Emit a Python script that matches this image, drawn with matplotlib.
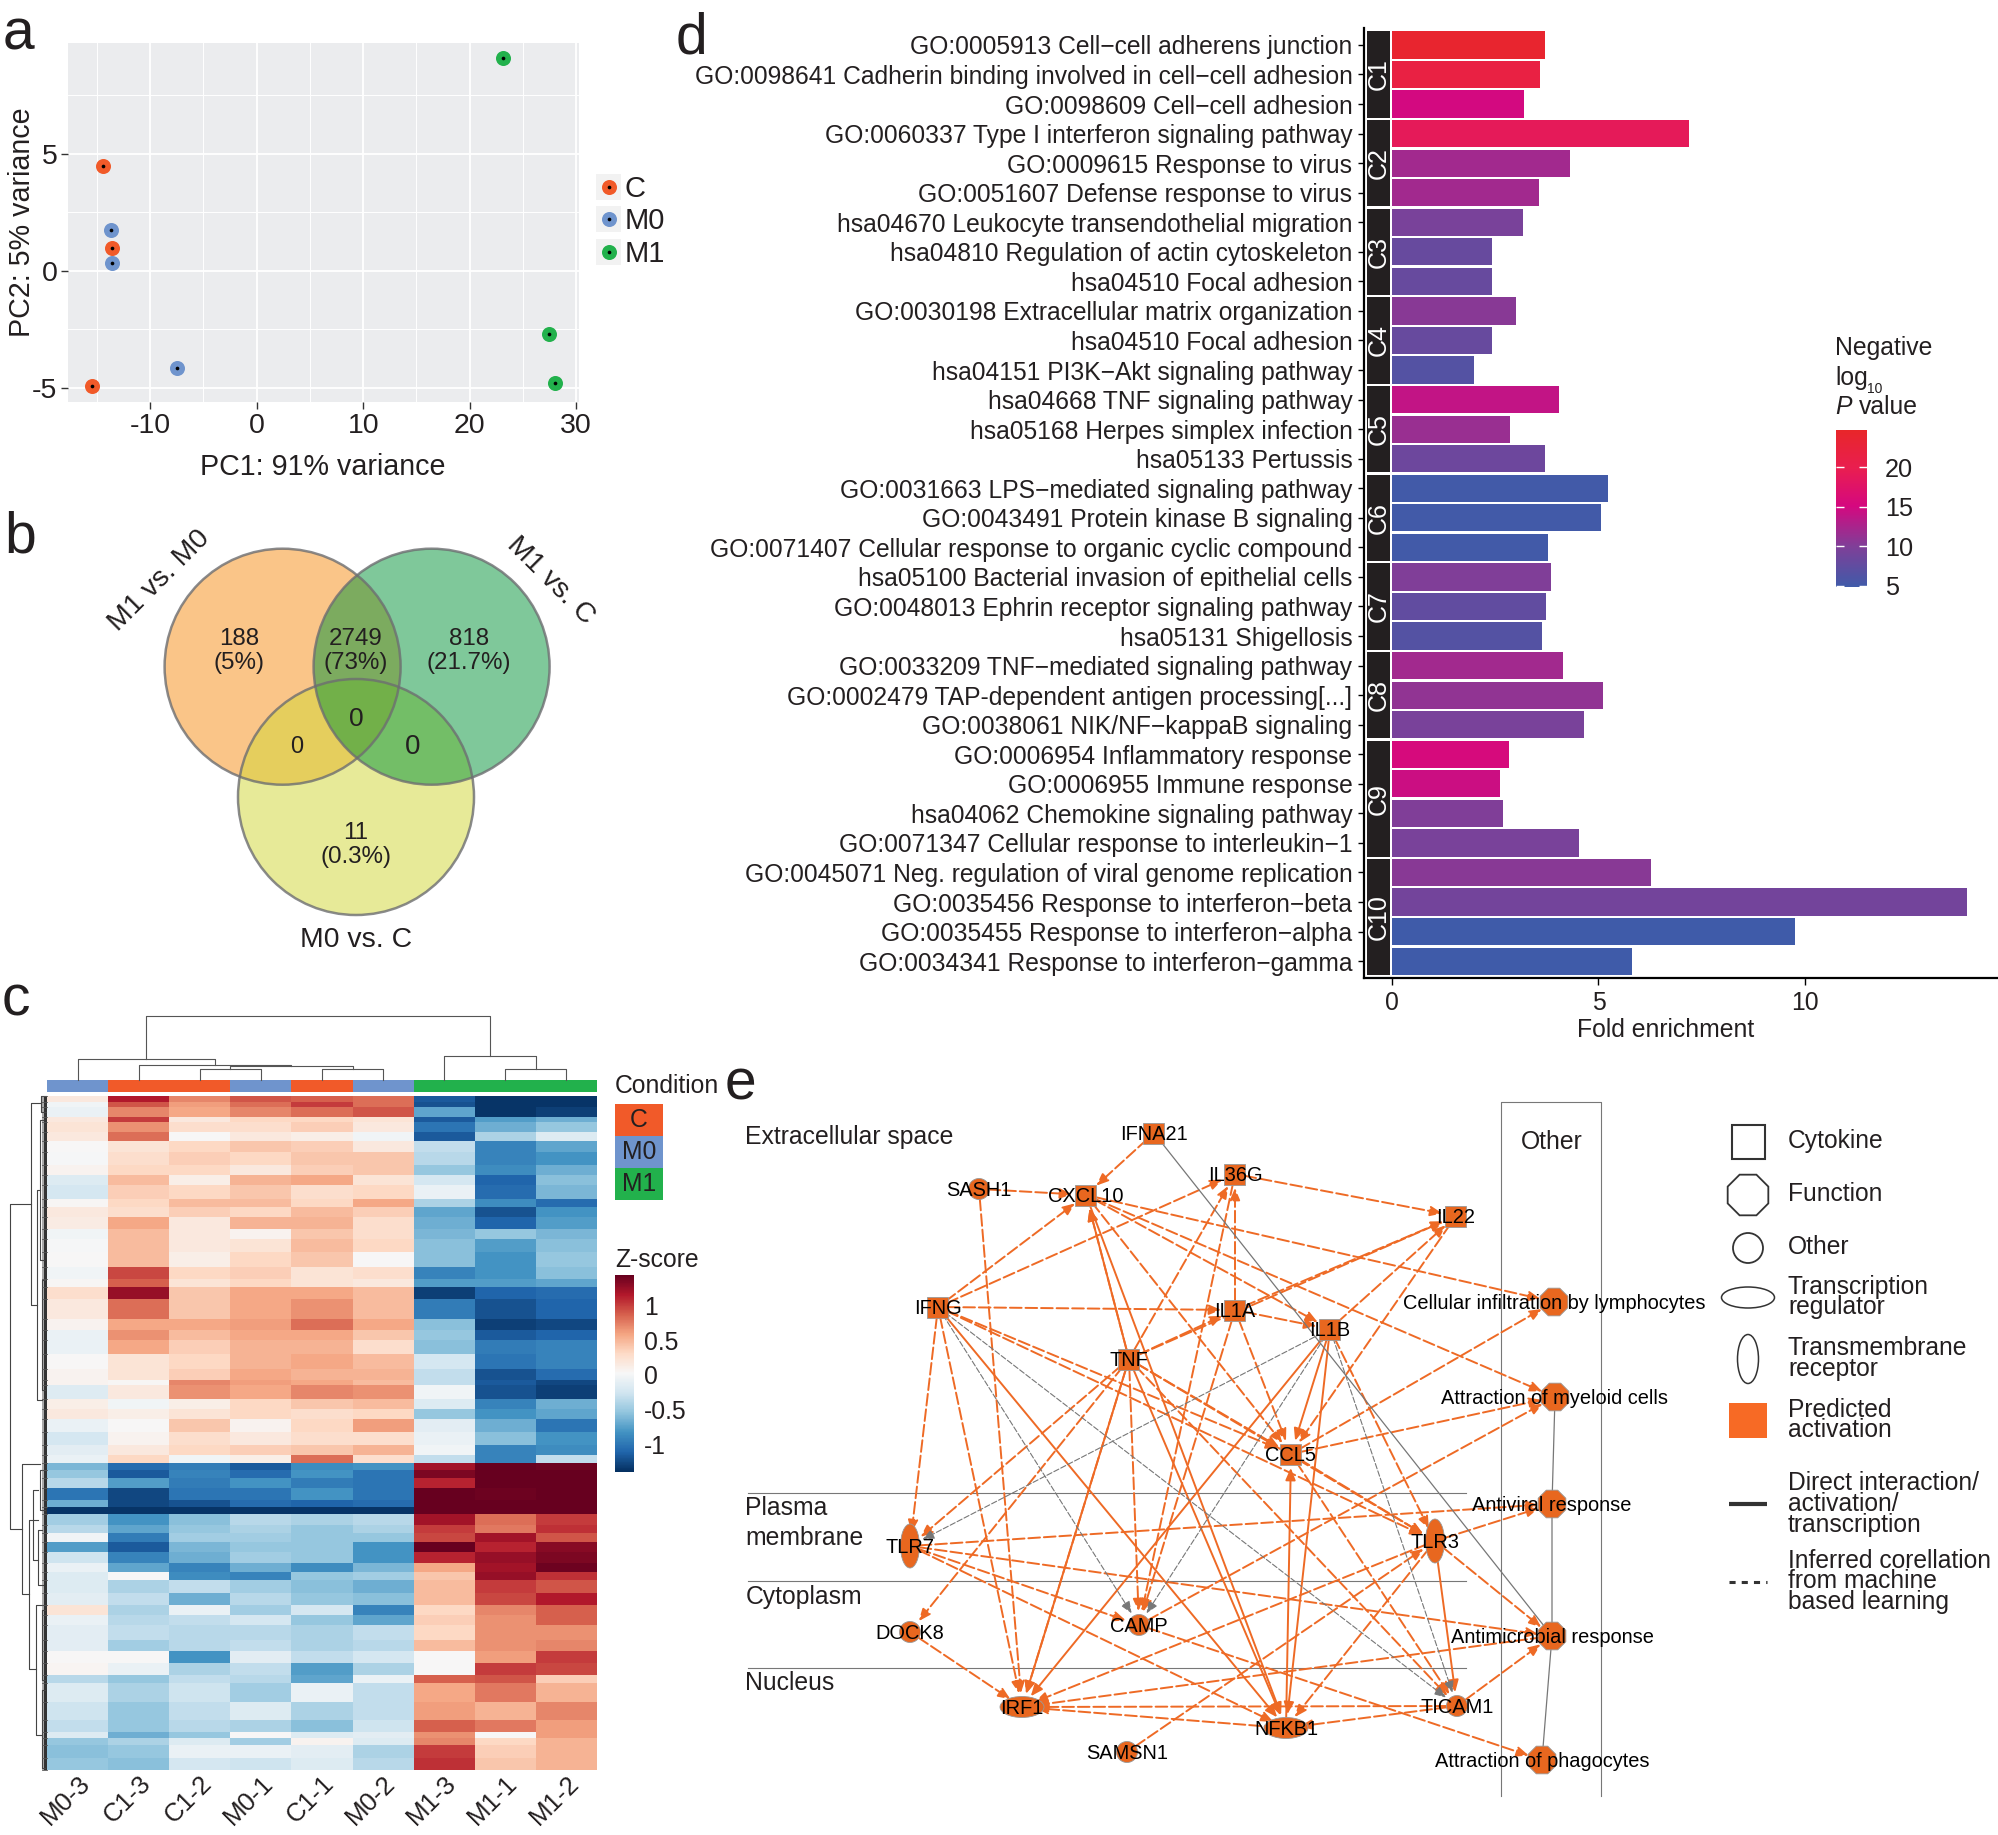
import numpy as np
import matplotlib
matplotlib.use("Agg")
import matplotlib.pyplot as plt
from matplotlib.colors import LinearSegmentedColormap, Normalize
from matplotlib.cm import ScalarMappable
from matplotlib.patches import Circle, Ellipse, Rectangle, RegularPolygon, FancyArrowPatch
from matplotlib.transforms import ScaledTranslation

plt.rcParams["font.family"] = ["Liberation Sans", "DejaVu Sans"]
plt.rcParams["text.color"] = "#231F20"
plt.rcParams["axes.labelcolor"] = "#231F20"
plt.rcParams["xtick.labelcolor"] = "#231F20"
plt.rcParams["ytick.labelcolor"] = "#231F20"
plt.rcParams["axes.unicode_minus"] = False

W, H = 1999, 1835

# ---- panel a: PCA
pca_groups = ["C", "M0", "M1"]
pca_colors = ["#F15A29", "#6F94CD", "#22B14C"]
pca_x = [[-14.4, -13.6, -15.5], [-13.7, -13.6, -7.5], [23.1, 27.4, 28.0]]
pca_y = [[4.5, 1.0, -4.9], [1.75, 0.35, -4.15], [9.1, -2.7, -4.8]]

# ---- panel b: venn
venn_names = ["M1 vs. M0", "M1 vs. C", "M0 vs. C"]
venn_counts = ["188\n(5%)", "2749\n(73%)", "818\n(21.7%)", "11\n(0.3%)"]
venn_zero = ["0", "0", "0"]

# ---- panel c: heatmap, bands of genes (top to bottom) and z-score per sample
heat_samples = ["M0-3", "C1-3", "C1-2", "M0-1", "C1-1", "M0-2", "M1-3", "M1-1", "M1-2"]
heat_groups = ["M0", "C", "C", "M0", "C", "M0", "M1", "M1", "M1"]
band_genes = [18, 15, 31, 14, 30, 28, 32, 40, 30, 30, 40, 25, 30, 35, 30, 40, 45, 35, 25, 35,
              60, 35, 30, 40, 45, 35, 15, 40, 30, 30, 40, 40,
              30, 25,
              20, 25, 30, 35, 20, 22, 33, 25, 25, 30, 35, 25, 25, 40, 35, 30, 30, 45, 32, 38,
              35, 25, 55, 55, 35, 20, 20, 40, 35]
band_z = [
    [.15, 1.15, .7, .9, .85, .8, -1.2, -1.4, -1.4],
    [-.05, .9, .6, .8, 1.0, .8, -1.25, -1.4, -1.4],
    [-.1, .7, .55, .7, .8, .9, -.75, -1.4, -1.35],
    [.15, 1.0, .15, .3, .3, .2, -1.2, -.8, -.7],
    [.2, .65, .25, .25, .35, .15, -1.05, -.7, -.55],
    [.15, .8, .0, .15, .1, -.05, -1.2, -.45, -.2],
    [0, .2, .3, .4, .35, .15, -.35, -.95, -.75],
    [-.02, .25, .35, .3, .4, .4, -.4, -.95, -.85],
    [.05, .3, .3, .15, .35, .4, -.55, -.9, -.7],
    [-.2, .45, .1, .5, .55, .2, -.25, -1.15, -.6],
    [-.25, .35, .3, .4, .25, .3, -.1, -1.1, -.65],
    [.02, .3, .45, .45, .3, .55, -.45, -.9, -1.1],
    [.15, .25, .35, .3, .45, .35, -.75, -1.25, -.85],
    [.12, .55, .15, .5, .5, .25, -.7, -1.15, -.8],
    [-.05, .45, .15, .05, .4, .25, -.65, -.55, -.65],
    [-.02, .45, .15, .2, .45, .3, -.6, -.8, -.6],
    [.0, .45, .1, .3, .4, .0, -.6, -.85, -.55],
    [-.05, .95, .3, .35, .2, .25, -.95, -.85, -.6],
    [.02, .85, .2, .3, .2, .15, -.8, -.8, -.75],
    [.25, 1.25, .4, .55, .55, .45, -1.35, -1.15, -1.1],
    [.15, .8, .4, .55, .65, .45, -1.0, -1.25, -1.15],
    [.05, .55, .55, .6, .8, .55, -.6, -1.35, -1.3],
    [-.1, .65, .45, .55, .55, .4, -.55, -1.2, -1.15],
    [-.1, .55, .35, .5, .5, .25, -.6, -1.0, -.95],
    [.0, .2, .3, .5, .55, .45, -.25, -1.05, -.95],
    [.05, .2, .35, .55, .5, .5, -.35, -1.25, -1.1],
    [.05, .02, .7, .6, .55, .45, -.35, -1.2, -1.3],
    [-.18, .15, .65, .55, .7, .65, -.05, -1.25, -1.35],
    [.1, -.05, .1, .3, .4, .45, -.2, -.95, -.7],
    [.15, .1, .2, .3, .25, .3, -.55, -.85, -.75],
    [-.1, 0, .4, .05, .3, .6, -.15, -.7, -1.05],
    [-.25, .05, .25, .15, .25, .25, -.1, -.6, -.85],
    [-.15, .15, .3, .35, .4, .5, -.05, -.95, -.9],
    [-.1, .3, -.05, .1, .8, .25, -.35, -.95, -.35],
    [-.65, -1.1, -1.0, -1.2, -.9, -.85, 1.2, 1.42, 1.4],
    [-.55, -1.2, -.95, -1.1, -.85, -1.05, 1.35, 1.42, 1.42],
    [-.4, -.8, -1.0, -.85, -1.0, -1.05, 1.1, 1.42, 1.42],
    [-1.05, -1.3, -1.05, -1.05, -.85, -1.05, 1.42, 1.4, 1.42],
    [-.7, -1.3, -1.25, -1.1, -1.15, -1.1, 1.42, 1.42, 1.42],
    [-1.4, -1.4, -1.4, -1.4, -1.4, -1.4, 1.42, 1.42, 1.42],
    [-.5, -.85, -.6, -.4, -.45, -.4, 1.2, .8, 1.0],
    [-.4, -.75, -.55, -.45, -.55, -.45, 1.0, .75, 1.05],
    [-.05, -1.0, -.5, -.5, -.55, -.55, .95, 1.2, .9],
    [-.8, -1.2, -.65, -.55, -.55, -.85, 1.42, 1.1, 1.3],
    [-.3, -.95, -.7, -.5, -.55, -.85, 1.1, 1.25, 1.35],
    [-.1, -.75, -.95, -.7, -.9, -.65, .55, 1.2, 1.4],
    [-.2, -.02, -.9, -.95, -.55, -.5, .4, 1.25, 1.05],
    [-.2, -.45, -.35, -.5, -.6, -.7, .45, 1.0, .9],
    [-.15, -.35, -.7, -.4, -.55, -.6, .45, .95, 1.15],
    [.2, -.45, -.1, -.5, -.25, -.95, .3, .7, .85],
    [-.1, -.4, -.35, -.25, -.55, -.75, .35, .65, .85],
    [-.15, -.35, -.4, -.4, -.45, -.35, .3, .65, .65],
    [-.15, -.5, -.4, -.35, -.45, -.4, .45, .65, .7],
    [.0, .0, -.85, -.15, -.35, -.25, .0, .6, 1.0],
    [.03, -.1, -.45, -.35, -.8, -.45, .0, 1.0, .95],
    [-.4, -.55, -.35, -.4, -.75, -.1, .85, .9, .35],
    [-.2, -.45, -.3, -.5, -.1, -.35, .55, .75, .5],
    [-.3, -.55, -.35, -.2, -.45, -.35, .6, .5, .7],
    [-.35, -.55, -.4, -.45, -.6, -.3, .85, .75, .6],
    [-.2, -.7, -.55, .0, -.2, -.15, .65, .0, .6],
    [-.55, -.45, -.2, -.5, .05, -.2, .7, .3, .5],
    [-.6, -.55, -.1, -.1, -.15, -.45, 1.0, .35, .5],
    [-.55, -.6, -.25, -.3, -.2, -.4, 1.05, .4, .5],
]
# column tree: left child, right child, merge height (leaf ids 0-8, merges from 9 up)
col_merges = [(2, 3, 11), (4, 5, 11.4), (9, 10, 13.6), (1, 11, 15), (0, 12, 20.7),
              (7, 8, 11), (6, 14, 24), (13, 15, 64)]
heat_ticks = [1, 0.5, 0, -0.5, -1]
heat_ticklabels = ["1", "0.5", "0", "-0.5", "-1"]

# ---- panel d: enrichment
go_terms = [
    "GO:0005913 Cell\u2212cell adherens junction",
    "GO:0098641 Cadherin binding involved in cell\u2212cell adhesion",
    "GO:0098609 Cell\u2212cell adhesion",
    "GO:0060337 Type I interferon signaling pathway",
    "GO:0009615 Response to virus",
    "GO:0051607 Defense response to virus",
    "hsa04670 Leukocyte transendothelial migration",
    "hsa04810 Regulation of actin cytoskeleton",
    "hsa04510 Focal adhesion",
    "GO:0030198 Extracellular matrix organization",
    "hsa04510 Focal adhesion",
    "hsa04151 PI3K\u2212Akt signaling pathway",
    "hsa04668 TNF signaling pathway",
    "hsa05168 Herpes simplex infection",
    "hsa05133 Pertussis",
    "GO:0031663 LPS\u2212mediated signaling pathway",
    "GO:0043491 Protein kinase B signaling",
    "GO:0071407 Cellular response to organic cyclic compound",
    "hsa05100 Bacterial invasion of epithelial cells",
    "GO:0048013 Ephrin receptor signaling pathway",
    "hsa05131 Shigellosis",
    "GO:0033209 TNF\u2212mediated signaling pathway",
    "GO:0002479 TAP-dependent antigen processing[...]",
    "GO:0038061 NIK/NF\u2212kappaB signaling",
    "GO:0006954 Inflammatory response",
    "GO:0006955 Immune response",
    "hsa04062 Chemokine signaling pathway",
    "GO:0071347 Cellular response to interleukin\u22121",
    "GO:0045071 Neg. regulation of viral genome replication",
    "GO:0035456 Response to interferon\u2212beta",
    "GO:0035455 Response to interferon\u2212alpha",
    "GO:0034341 Response to interferon\u2212gamma",
]
fold_enrichment = [3.69, 3.59, 3.19, 7.2, 4.31, 3.56, 3.18, 2.42, 2.42, 2.99, 2.42, 1.97,
                   4.03, 2.85, 3.69, 5.22, 5.07, 3.77, 3.84, 3.73, 3.64, 4.14, 5.10, 4.64,
                   2.84, 2.62, 2.68, 4.52, 6.28, 13.94, 9.76, 5.81]
neg_log_p = [24, 21.5, 15, 19, 12, 12, 9.5, 8, 8, 10.5, 8, 6.5, 14, 11.5, 8.5, 5, 5, 5,
             10, 7.5, 6.5, 12, 11, 9.5, 15.5, 14.5, 10, 9.5, 10.5, 9, 4.6, 4.6]
cluster_names = ["C1", "C2", "C3", "C4", "C5", "C6", "C7", "C8", "C9", "C10"]
cluster_sizes = [3, 3, 3, 3, 3, 3, 3, 3, 4, 4]

# ---- panel e: network, node name, x px, y px, shape
node_names = ["IFNA21", "SASH1", "CXCL10", "IL36G", "IL22", "IFNG", "IL1A", "IL1B", "TNF", "CCL5",
              "TLR7", "TLR3", "DOCK8", "CAMP", "IRF1", "NFKB1", "TICAM1", "SAMSN1",
              "Cellular infiltration by lymphocytes", "Attraction of myeloid cells",
              "Antiviral response", "Antimicrobial response", "Attraction of phagocytes"]
node_x = [1154, 979, 1086, 1235, 1456, 938, 1235, 1330, 1129, 1291,
          910, 1435, 910, 1139, 1022, 1286, 1457, 1127, 1554, 1555, 1552, 1552, 1542]
node_y = [1133, 1189, 1195, 1174, 1216, 1307, 1310, 1329, 1359, 1454,
          1546, 1541, 1632, 1625, 1707, 1728, 1706, 1752, 1302, 1397, 1504, 1636, 1760]
node_shape = ["sq", "ci", "sq", "sq", "sq", "sq", "sq", "sq", "sq", "sq",
              "ev", "ev", "ci", "ci", "eh", "eh", "ci", "ci", "oc", "oc", "oc", "oc", "oc"]
edges_dashed = [("IFNA21", "CXCL10"), ("SASH1", "CXCL10"), ("SASH1", "IRF1"), ("IL36G", "IL22"),
                ("IFNG", "CXCL10"), ("IFNG", "IL36G"), ("IFNG", "IL1A"), ("IFNG", "TLR7"),
                ("IFNG", "IRF1"), ("IFNG", "CCL5"), ("IFNG", "TLR3"),
                ("CXCL10", "IL1B"), ("CXCL10", "Cellular infiltration by lymphocytes"),
                ("CXCL10", "Attraction of myeloid cells"), ("CXCL10", "CCL5"), ("TNF", "CXCL10"),
                ("TNF", "IL36G"), ("TNF", "IL1A"), ("TNF", "IL22"), ("TNF", "CCL5"), ("TNF", "TLR7"),
                ("TNF", "DOCK8"), ("TNF", "CAMP"), ("TNF", "IRF1"), ("TNF", "TLR3"), ("TNF", "TICAM1"),
                ("IL1A", "IL22"), ("IL1A", "IL36G"), ("IL1A", "CCL5"), ("IL1A", "CAMP"),
                ("IL1A", "IL1B"), ("IL1B", "IL22"), ("IL1B", "TLR3"), ("IL22", "CCL5"),
                ("CCL5", "Cellular infiltration by lymphocytes"), ("CCL5", "Attraction of myeloid cells"),
                ("CCL5", "TICAM1"), ("CCL5", "TLR3"), ("CAMP", "Attraction of myeloid cells"),
                ("CAMP", "Attraction of phagocytes"), ("TLR7", "Antiviral response"),
                ("TLR7", "Antimicrobial response"), ("TLR7", "NFKB1"), ("TLR7", "CAMP"),
                ("TLR3", "Antiviral response"), ("TLR3", "Antimicrobial response"), ("TLR3", "IRF1"),
                ("TLR3", "NFKB1"), ("DOCK8", "IRF1"), ("TICAM1", "IRF1"),
                ("TICAM1", "Antimicrobial response"), ("TICAM1", "NFKB1"), ("NFKB1", "IRF1"),
                ("Antimicrobial response", "IRF1"), ("SAMSN1", "TLR3"), ("IL36G", "CAMP")]
edges_solid = [("CXCL10", "NFKB1"), ("TNF", "NFKB1"), ("IFNG", "NFKB1"), ("TNF", "CXCL10"),
               ("IL1B", "IRF1"), ("IL1B", "NFKB1"), ("IL1B", "CCL5"), ("NFKB1", "CCL5"),
               ("TLR3", "TICAM1"), ("TNF", "IRF1")]
edges_gray_dash = [("IFNG", "CAMP"), ("IFNG", "TICAM1"), ("IL1B", "TLR7"), ("IL1B", "CAMP"),
                   ("IL1B", "TICAM1")]
edges_gray_solid = [("IFNA21", "Antimicrobial response")]
function_chain = ["Attraction of myeloid cells", "Antiviral response",
                  "Antimicrobial response", "Attraction of phagocytes"]
compartments = ["Extracellular space", "Plasma\nmembrane", "Cytoplasm", "Nucleus"]

DARK = "#231F20"
fig = plt.figure(figsize=(W / 100, H / 100), dpi=100)


def px_axes(x0, y0, x1, y1, **kw):
    return fig.add_axes([x0 / W, 1 - y1 / H, (x1 - x0) / W, (y1 - y0) / H], **kw)


# overlay in figure pixels for labels and diagrams
ov = fig.add_axes([0, 0, 1, 1], zorder=5)
ov.set_xlim(0, W)
ov.set_ylim(H, 0)
ov.axis("off")
ov.patch.set_alpha(0)


def txt(x, y, s, size=17.8, ha="left", va="center", **kw):
    return ov.text(x, y, s, fontsize=size, ha=ha, va=va, **kw)


for letter, lx, ly in [("a", 3, 50), ("b", 4, 552), ("c", 2, 1015), ("d", 676, 53), ("e", 725, 1099)]:
    txt(lx, ly, letter, size=41, va="baseline")

# ---- a
ax = px_axes(68.5, 43.3, 579, 402)
ax.set_facecolor("#EBECEE")
ax.set_xlim(-17.67, 30.26)
ax.set_ylim(-5.6, 9.73)
ax.set_xticks([-10, 0, 10, 20, 30])
ax.set_yticks([-5, 0, 5])
ax.set_xticks([-15, -5, 5, 15, 25], minor=True)
ax.set_yticks([-2.5, 2.5, 7.5], minor=True)
ax.grid(which="major", color="white", lw=1.3)
ax.grid(which="minor", color="white", lw=0.7)
ax.set_axisbelow(True)
ax.tick_params(which="minor", length=0)
ax.tick_params(which="major", length=5, width=1, labelsize=20.5, color="#333333", pad=3)
for s in ax.spines.values():
    s.set_visible(False)
for gx, gy, col in zip(pca_x, pca_y, pca_colors):
    ax.scatter(gx, gy, s=117, color=col, zorder=3, linewidths=0)
    ax.scatter(gx, gy, s=7, color="black", zorder=4, linewidths=0)
ax.set_xlabel("PC1: 91% variance", fontsize=20.6, va="center")
ax.xaxis.set_label_coords(323, 467, transform=ov.transData)
ax.set_ylabel("PC2: 5% variance", fontsize=20.6, va="center")
ax.yaxis.set_label_coords(22, 222, transform=ov.transData)
for i, (name, col) in enumerate(zip(pca_groups, pca_colors)):
    ky = [187, 219, 252][i]
    ov.add_patch(Rectangle((596, ky - 13), 25, 26, fc="#F2F2F2", ec="none"))
    ov.scatter([608.6], [ky], s=117, color=col, linewidths=0, zorder=3)
    ov.scatter([608.6], [ky], s=7, color="black", linewidths=0, zorder=4)
    txt(625, ky + 2, name, size=21)

# ---- b: orange first, then yellow, then green on top
venn_xy = [(282.6, 666.7), (356, 797), (431.6, 666.7)]
venn_col = ["#F78D13", "#D1D733", "#009337"]
for (cx, cy), col in zip(venn_xy, venn_col):
    ov.add_patch(Circle((cx, cy), 118, fc=col, alpha=0.5, ec="none"))
for cx, cy in venn_xy:
    ov.add_patch(Circle((cx, cy), 118, fc="none", ec="#6D6E71", lw=1.8, alpha=0.8))
for (vx, vy), s in zip([(239, 651), (356, 651), (469, 651), (356, 845)], venn_counts):
    txt(vx, vy, s, size=17.4, ha="center", linespacing=1.08)
txt(356, 719, venn_zero[0], size=19, ha="center")
txt(297, 747, venn_zero[1], size=17, ha="center")
txt(413, 747, venn_zero[2], size=20, ha="center")
txt(159, 581, venn_names[0], size=20.4, ha="center", rotation=45)
txt(551, 581, venn_names[1], size=20.4, ha="center", rotation=-45)
txt(356, 940, venn_names[2], size=20.4, ha="center")

# ---- c
heat_cmap = plt.get_cmap("RdBu_r")
group_col = dict(zip(pca_groups, pca_colors))
axh = px_axes(47, 1096, 597, 1770)
edges_y = np.concatenate([[0], np.cumsum(band_genes)])
axh.pcolormesh(np.arange(len(heat_samples) + 1), edges_y, np.array(band_z),
               cmap=heat_cmap, vmin=-1.43, vmax=1.43, linewidth=0, rasterized=True)
axh.set_ylim(edges_y[-1], 0)
axh.set_xticks(np.arange(len(heat_samples)) + 0.5)
axh.set_xticklabels(heat_samples, rotation=45, ha="right", va="top", rotation_mode="anchor", fontsize=18.5)
for lab in axh.get_xticklabels():
    lab.set_transform(lab.get_transform() + ScaledTranslation(0.13, 0.03, fig.dpi_scale_trans))
axh.set_yticks([])
axh.tick_params(axis="x", length=0, pad=1)
for s in axh.spines.values():
    s.set_visible(False)

axa = px_axes(47, 1080, 597, 1092)
axa.bar(np.arange(len(heat_samples)) + 0.5, 1, width=1, color=[group_col[g] for g in heat_groups])
axa.set_xlim(0, len(heat_samples))
axa.set_ylim(0, 1)
axa.axis("off")

# column dendrogram from the merge table
col_w = 550 / len(heat_samples)
pos = {i: (47 + (i + 0.5) * col_w, 0) for i in range(len(heat_samples))}
for k, (a, b, h) in enumerate(col_merges):
    xa, ha_ = pos[a]
    xb, hb = pos[b]
    ov.plot([xa, xa, xb, xb], [1080 - ha_, 1080 - h, 1080 - h, 1080 - hb], color="#555555", lw=0.8)
    pos[len(heat_samples) + k] = ((xa + xb) / 2, h)

# row dendrogram
row_brackets = [(10.5, 1204, 1529, 31.5, 22), (31.5, 1103, 1305, 41, 37), (22, 1464, 1594, 40, 29),
                (29, 1520, 1669, 38, 36), (36, 1605, 1735, 43, 42), (37, 1190, 1400, 40, 42),
                (41, 1096, 1112, 46, 46), (40, 1120, 1260, 43, 44), (42, 1280, 1390, 45, 45),
                (40, 1470, 1510, 45, 45), (38, 1530, 1585, 42, 43), (33.5, 1490, 1560, 38, 38),
                (42, 1610, 1680, 45, 45), (42, 1690, 1768, 45, 45)]
for px_, y0, y1, c0, c1 in row_brackets:
    ov.plot([c0, px_, px_, c1], [y0, y0, y1, y1], color="#444444", lw=0.8)
for e in edges_y:
    yy = 1096 + e / edges_y[-1] * 674
    ov.plot([42, 47], [yy, yy], color="#555555", lw=0.6)
ov.add_patch(Rectangle((44.5, 1096), 2.5, 674, fc="#333333", ec="none"))
ov.add_patch(Rectangle((42.5, 1096), 2, 674, fc="#AAAAAA", ec="none"))

txt(615, 1086, "Condition")
for i, (g, y0) in enumerate(zip(pca_groups, [1104, 1136, 1168])):
    ov.add_patch(Rectangle((615, y0), 48.5, 32, fc=group_col[g], ec="none", zorder=2))
    txt(639, y0 + 16, g, ha="center", zorder=3)
txt(615, 1259.5, "Z-score")
cax = px_axes(615, 1275, 634, 1471.5)
cb = fig.colorbar(ScalarMappable(Normalize(-1.38, 1.43), heat_cmap), cax=cax)
cb.set_ticks(heat_ticks)
cb.set_ticklabels(heat_ticklabels)
cb.ax.tick_params(length=0, labelsize=17.8, pad=7)
cb.outline.set_visible(False)

# ---- d
p_cmap = LinearSegmentedColormap.from_list(
    "plog", [(0, "#3F5BA9"), (0.26, "#7F3F98"), (0.52, "#D5087F"), (0.76, "#E91E50"), (1, "#E8262A")])
p_norm = Normalize(4.75, 24.7)
axd = px_axes(1364, 27.5, 1997, 978)
rows = np.arange(len(go_terms))
axd.barh(rows, fold_enrichment, height=0.92, color=p_cmap(p_norm(np.array(neg_log_p))))
axd.set_xlim(-0.69, 14.67)
axd.set_ylim(31.57, -0.59)
axd.set_yticks(rows)
axd.set_yticklabels(go_terms, fontsize=17.7, va="center_baseline")
axd.set_xticks([0, 5, 10])
axd.tick_params(axis="x", labelsize=17.8, length=5, width=1, pad=4)
axd.tick_params(axis="y", length=4.3, width=1, pad=4)
axd.spines["top"].set_visible(False)
axd.spines["right"].set_visible(False)
axd.spines["left"].set_linewidth(1.6)
axd.spines["bottom"].set_linewidth(1.6)
axd.set_xlabel("Fold enrichment", fontsize=17.8, va="center")
axd.xaxis.set_label_coords(1666, 1030, transform=ov.transData)
start = 0
for name, n in zip(cluster_names, cluster_sizes):
    y0, y1 = start - 0.46, start + n - 1 + 0.46
    axd.barh((y0 + y1) / 2, 0.57, left=-0.62, height=y1 - y0, color=DARK)
    axd.text(-0.335, (y0 + y1) / 2, name, color="white", rotation=90, ha="center", va="center", fontsize=18)
    start += n

txt(1835, 348, "Negative")
txt(1835, 378, "log")
txt(1867.5, 389, "10", size=10)
txt(1835, 407, "P", style="italic")
txt(1859, 407, "value")
cax2 = px_axes(1836, 430.5, 1867, 587.5)
cb2 = fig.colorbar(ScalarMappable(p_norm, p_cmap), cax=cax2)
cb2.set_ticks([5, 10, 15, 20])
cb2.ax.tick_params(labelsize=18.2, length=6, width=1, color="#FFFFFF", direction="in",
                   left=True, right=True, pad=13)
cb2.outline.set_visible(False)

# ---- e
for ly in [1493, 1581, 1668]:
    ov.plot([748, 1466], [ly, ly], color="#777777", lw=0.8)
ov.plot([1500.6, 1500.6, 1601, 1601], [1796, 1102, 1102, 1796], color="#777777", lw=0.8)
txt(745.5, 1137, compartments[0])
txt(745.5, 1523, compartments[1], linespacing=1.35)
txt(745.5, 1597, compartments[2])
txt(745.5, 1683, compartments[3])
txt(1552, 1142, "Other", ha="center")

xy = {n: (x, y) for n, x, y in zip(node_names, node_x, node_y)}
ORANGE = "#EE6A25"


def arrow(a, b, color, ls, lw):
    ov.add_patch(FancyArrowPatch(xy[a], xy[b], arrowstyle="-|>,head_length=0.6,head_width=0.25",
                                 mutation_scale=12, color=color, linestyle=ls, lw=lw,
                                 shrinkA=7, shrinkB=10, zorder=2))


for a, b in edges_dashed:
    arrow(a, b, ORANGE, (0, (6, 2)), 1.4)
for a, b in edges_solid:
    arrow(a, b, ORANGE, "-", 1.4)
for a, b in edges_gray_dash:
    arrow(a, b, "#777777", (0, (5, 2)), 0.8)
for a, b in edges_gray_solid:
    ov.plot(*zip(xy[a], xy[b]), color="#777777", lw=0.9, zorder=2)
ov.plot([xy[n][0] for n in function_chain], [xy[n][1] for n in function_chain], color="#777777", lw=0.9, zorder=2)

NODE = "#E8671F"
for n, x, y, shp in zip(node_names, node_x, node_y, node_shape):
    if shp == "sq":
        p = Rectangle((x - 10.5, y - 10.5), 21, 21)
    elif shp == "ci":
        p = Circle((x, y), 10.5)
    elif shp == "ev":
        p = Ellipse((x, y), 19, 44)
    elif shp == "eh":
        p = Ellipse((x, y), 44, 21)
    else:
        p = RegularPolygon((x, y), 8, radius=15, orientation=np.pi / 8)
    p.set(fc=NODE, ec="#999999", lw=0.6, zorder=3)
    ov.add_patch(p)
    txt(x, y + 1, n, size=14.4, ha="center", color="black", zorder=4)

# e legend
ov.add_patch(Rectangle((1732, 1125), 33, 33.5, fc="none", ec="#333333", lw=1.5))
ov.add_patch(RegularPolygon((1748, 1195), 8, radius=22, orientation=np.pi / 8, fc="none", ec="#333333", lw=1.3))
ov.add_patch(Circle((1748, 1248), 15, fc="none", ec="#333333", lw=1.3))
ov.add_patch(Ellipse((1748, 1297.5), 53, 21, fc="none", ec="#333333", lw=1.1))
ov.add_patch(Ellipse((1748, 1359), 21, 49, fc="none", ec="#333333", lw=1.1))
ov.add_patch(Rectangle((1729, 1403), 38, 35, fc="#F76A25", ec="none"))
ov.plot([1729, 1767], [1504, 1504], color="#333333", lw=3, solid_capstyle="butt")
ov.plot([1729, 1767], [1582, 1582], color="#333333", lw=2.2, linestyle=(0, (2, 2)))
for ty, s in [(1141, "Cytokine"), (1194, "Function"), (1247, "Other"), (1287, "Transcription"),
              (1307, "regulator"), (1348, "Transmembrane"), (1369, "receptor"), (1409.6, "Predicted"),
              (1430, "activation"), (1483, "Direct interaction/"), (1504, "activation/"),
              (1524.6, "transcription"), (1561, "Inferred corellation"), (1581, "from machine"),
              (1602, "based learning")]:
    txt(1788, ty, s, size=17.7)

fig.savefig("out.png", dpi=100)
